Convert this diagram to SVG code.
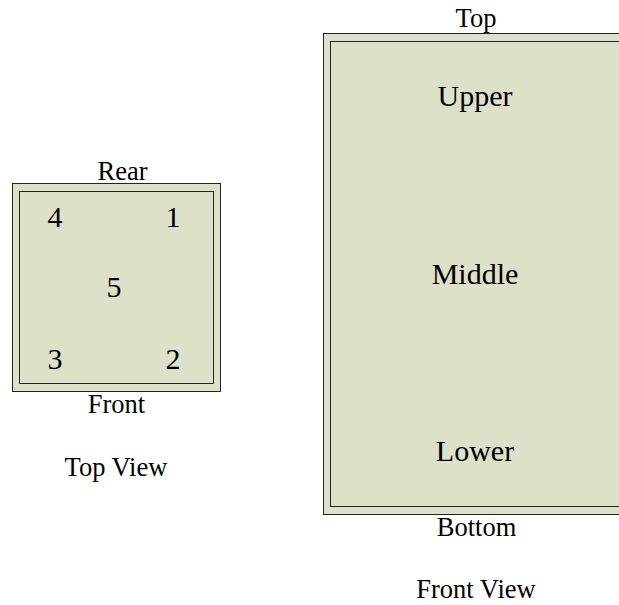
<svg xmlns="http://www.w3.org/2000/svg" width="619" height="605" viewBox="0 0 619 605">
<style>
text{font-family:"Liberation Serif","Times New Roman",serif;fill:#000;text-anchor:middle}
.box{fill:#dde1ca;stroke:#222;stroke-width:1}
.inner{fill:none;stroke:#222;stroke-width:1}
.m{font-size:30px}
.l{font-size:26.500px}
</style>
<rect width="619" height="605" fill="#fff"/>
<g id="top-view">
<rect class="box" x="12.5" y="183.500" width="208" height="208"/>
<rect class="inner" x="19.5" y="191.500" width="194" height="192"/>
<text class="l" x="122.500" y="180">Rear</text>
<text class="l" x="116.500" y="413">Front</text>
<text class="l" x="116" y="476">Top View</text>
<text class="m" x="55" y="227">4</text>
<text class="m" x="173" y="227">1</text>
<text class="m" x="114" y="297">5</text>
<text class="m" x="55" y="369">3</text>
<text class="m" x="173" y="369">2</text>
</g>
<g id="front-view">
<rect class="box" x="323.500" y="33.500" width="310" height="481"/>
<rect class="inner" x="330.500" y="41.500" width="296" height="465"/>
<text class="l" x="476" y="27">Top</text>
<text class="m" x="475" y="106">Upper</text>
<text class="m" x="475" y="284">Middle</text>
<text class="m" x="475" y="461">Lower</text>
<text class="l" x="476.500" y="536">Bottom</text>
<text class="l" x="476" y="598">Front View</text>
</g>
<g id="connectors"/>
</svg>
